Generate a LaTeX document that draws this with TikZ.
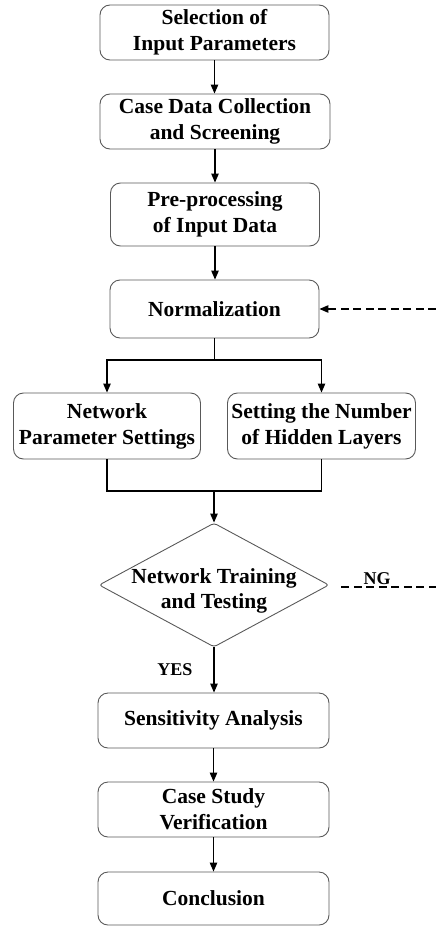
\documentclass[tikz,border=0pt]{standalone}
\usepackage{fontspec}
\setmainfont{Liberation Serif}
\usetikzlibrary{shapes.geometric,arrows.meta}
\begin{document}
\begin{tikzpicture}[x=1pt,y=-1pt,
  box/.style={draw=black!65, line width=0.9pt, rounded corners=10pt, align=center,
    font=\fontsize{21.5}{26}\selectfont\bfseries, inner sep=0pt},
  dec/.style={draw=black!65, line width=0.9pt, diamond, rounded corners=3pt, inner sep=0pt,
    minimum width=230pt, minimum height=124pt},
  txt/.style={align=center, font=\fontsize{21.5}{25}\selectfont\bfseries, inner sep=0pt},
  arr/.style={line width=1.1pt, -{Triangle[length=9pt,width=7.5pt]}},
  ln/.style={line width=1.1pt},
  dsh/.style={line width=1.1pt, dash pattern=on 8pt off 4.5pt},
  lbl/.style={font=\fontsize{18}{20}\selectfont\bfseries, inner sep=0pt}]
\useasboundingbox (0,0) rectangle (436,926);

\node[box, minimum width=229pt, minimum height=55pt] (b1) at (214.5,32.5) {Selection of\\Input Parameters};
\node[box, minimum width=230pt, minimum height=55pt] (b2) at (215,121.5) {Case Data Collection\\and Screening};
\node[box, minimum width=209pt, minimum height=63pt] (b3) at (215,214.5) {Pre-processing\\of Input Data};
\node[box, minimum width=209pt, minimum height=58pt] (b4) at (214.5,309) {Normalization};
\node[box, minimum width=187pt, minimum height=66pt] (bl) at (107,426) {Network\\Parameter Settings};
\node[box, minimum width=188pt, minimum height=66pt] (br) at (321.5,426) {Setting the Number\\of Hidden Layers};
\node[dec] (dec) at (214,585) {};
\node[txt] (dect) at (214,591) {Network Training\\and Testing};
\node[box, minimum width=231pt, minimum height=55pt] (s1) at (213.5,720.5) {Sensitivity Analysis};
\node[box, minimum width=231pt, minimum height=55pt] (s2) at (213.5,809.5) {Case Study\\Verification};
\node[box, minimum width=231pt, minimum height=53pt] (s3) at (213.5,898.5) {Conclusion};

\draw[arr] (b1.south) -- (b1.south |- b2.north);
\draw[arr] (b2.south) -- (b2.south |- b3.north);
\draw[arr] (b3.south) -- (b3.south |- b4.north);

\coordinate (sp) at (214.5,360);
\draw[ln] (b4.south) -- (sp);
\draw[arr] (sp) -| (bl.north);
\draw[arr] (sp) -| (br.north);

\coordinate (mg) at (214,491);
\draw[ln] (bl.south) |- (mg);
\draw[ln] (br.south) |- (mg);
\draw[arr] (mg) -- (dec.north);

\draw[arr] (dec.south) -- (dec.south |- s1.north);
\node[lbl] (yes) at (175,670) {YES};
\draw[arr] (s1.south) -- (s1.south |- s2.north);
\draw[arr] (s2.south) -- (s2.south |- s3.north);

\coordinate (ngend) at (436,587);
\draw[dsh] ([xshift=12pt,yshift=-2pt]dec.east) -- (ngend);
\node[lbl] (ng) at (377,578.5) {NG};

\coordinate (fb) at (436,309);
\draw[dsh, -{Triangle[length=9pt,width=7.5pt]}] (fb) -- (b4.east);
\end{tikzpicture}
\end{document}
